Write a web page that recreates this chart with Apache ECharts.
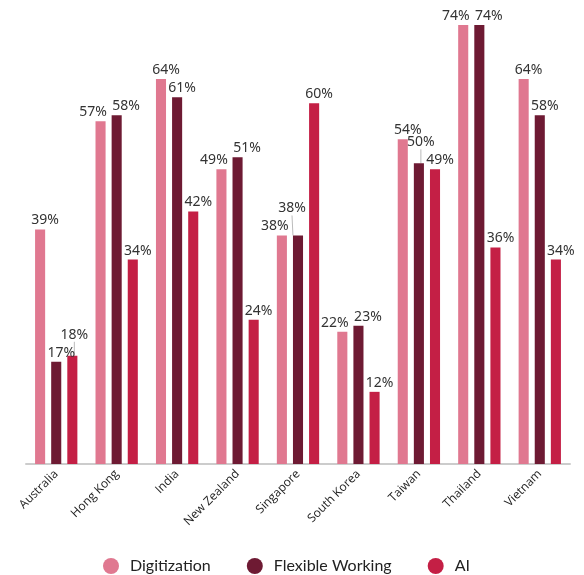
<!DOCTYPE html>
<html><head><meta charset="utf-8">
<script src="https://cdn.jsdelivr.net/npm/echarts@6/dist/echarts.min.js"></script>
<style>html,body{margin:0;padding:0;background:#fff}#c{width:584px;height:575px}</style>
</head><body><div id="c"></div>
<script>
const categories = ['Australia','Hong Kong','India','New Zealand','Singapore','South Korea','Taiwan','Thailand','Vietnam'];
const digitization = [39,57,64,49,38,22,54,74,64];
const flexibleWorking = [17,58,61,51,38,23,50,74,58];
const ai = [18,34,42,24,60,12,49,36,34];
const seriesNames = ['Digitization','Flexible Working','AI'];
const colors = ['#e07890','#6e1a33','#c41f45'];

const GRID = {left: 26, right: 14, top: 25, bottom: 111};
const YMAX = 73;
const plotH = 575 - GRID.top - GRID.bottom;
const scale = plotH / YMAX;
const BAR_STEP = 16;     // distance between bar centres inside a category
const LBL_H = 15, LBL_GAP = 3, HALF_SEP = 16.5, DEF_DX = 5;

// label layout (overlap avoidance), computed from the values
const all = [digitization, flexibleWorking, ai];
const layout = all.map(s => s.map(() => ({dx: DEF_DX, dy: 0, line: false})));
for (let i = 0; i < categories.length; i++) {
  for (let s = 0; s < 2; s++) {
    const a = s, b = s + 1;
    const va = all[a][i], vb = all[b][i];
    const ya = -Math.min(va, YMAX) * scale + layout[a][i].dy, yb = -Math.min(vb, YMAX) * scale + layout[b][i].dy;
    if (Math.abs(ya - yb) >= LBL_H) continue;
    const atTop = Math.max(va, vb) >= YMAX;
    const horizontal = (a === 0 && (vb > va || (vb === va && atTop)));
    if (horizontal) {
      layout[a][i].dx = 1 + BAR_STEP / 2 - HALF_SEP;
      layout[b][i].dx = 1 - BAR_STEP / 2 + HALF_SEP;
    } else {
      const mover = vb >= va ? b : a, other = mover === b ? a : b;
      const otherTop = -all[other][i] * scale + layout[other][i].dy - LBL_H;
      const moverBottom = -all[mover][i] * scale;
      layout[mover][i].dy = (otherTop - LBL_GAP) - moverBottom;
      layout[mover][i].dx = (va === vb) ? -6 : 2;
      if (va === vb) layout[other][i].dx = -7;
      layout[mover][i].line = true;
    }
  }
}

const chart = echarts.init(document.getElementById('c'));
const mk = (idx) => ({
  name: seriesNames[idx], type: 'bar', clip: true,
  data: all[idx].map((v, i) => ({value: v, labelLine: {show: layout[idx][i].line}})),
  barGap: '60%', barCategoryGap: '30%',
  itemStyle: {color: colors[idx]},
  label: {show: true, position: 'top', formatter: '{c}%', color: '#333', fontSize: 14, fontFamily: 'Noto Sans', distance: 2},
  labelLine: {show: false, lineStyle: {color: '#bbb', width: 1}},
  labelLayout: (p) => ({dx: layout[p.seriesIndex][p.dataIndex].dx, dy: layout[p.seriesIndex][p.dataIndex].dy})
});
chart.setOption({
  animation: false,
  color: colors,
  grid: GRID,
  legend: {left: 98, top: 553, itemGap: 36, icon: 'circle', itemWidth: 16, itemHeight: 16,
    textStyle: {fontSize: 16, color: '#222', fontFamily: 'Lato', padding: [0, 0, 0, 6]}, data: seriesNames},
  xAxis: {type: 'category', data: categories,
    axisLine: {lineStyle: {color: '#ccc', width: 2}}, axisTick: {show: false},
    axisLabel: {rotate: 45, interval: 0, fontSize: 12, color: '#222', fontFamily: 'Open Sans', margin: 8}},
  yAxis: {type: 'value', min: 0, max: YMAX, show: false, splitLine: {show: false}},
  series: [mk(0), mk(1), mk(2)]
});
</script></body></html>
